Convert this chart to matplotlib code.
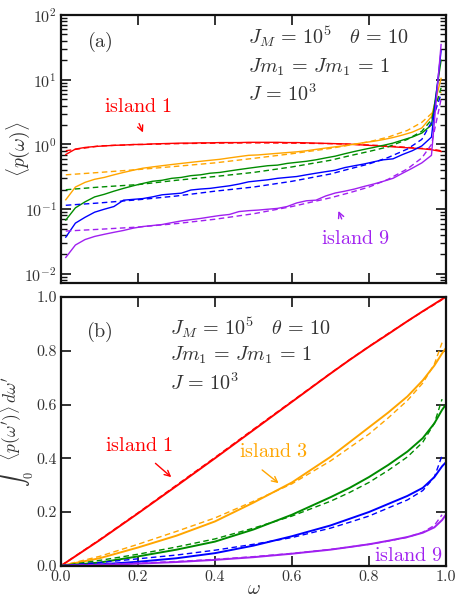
import numpy as np
import matplotlib
matplotlib.use("Agg")
import matplotlib.pyplot as plt
from matplotlib.ticker import LogLocator, MultipleLocator, NullFormatter, FormatStrFormatter

plt.rcParams['font.family'] = 'serif'
plt.rcParams['font.serif'] = ['cmr10', 'DejaVu Serif']
plt.rcParams['mathtext.fontset'] = 'cm'
plt.rcParams['axes.formatter.use_mathtext'] = True
plt.rcParams['axes.unicode_minus'] = False

# ---------------- data: panel (a) ----------------
w_bins = [0.0125, 0.0375, 0.0625, 0.0875, 0.1125, 0.1375, 0.1625, 0.1875, 0.2125, 0.2375,
          0.2625, 0.2875, 0.3125, 0.3375, 0.3625, 0.3875, 0.4125, 0.4375, 0.4625, 0.4875,
          0.5125, 0.5375, 0.5625, 0.5875, 0.6125, 0.6375, 0.6625, 0.6875, 0.7125, 0.7375,
          0.7625, 0.7875, 0.8125, 0.8375, 0.8625, 0.8875, 0.9125, 0.9375, 0.9625, 0.9875]

red_solid = [0.70, 0.85, 0.90, 0.93, 0.95, 0.97, 0.98, 1.00, 1.00, 1.02,
             1.03, 1.04, 1.05, 1.05, 1.06, 1.06, 1.07, 1.07, 1.07, 1.08,
             1.08, 1.08, 1.08, 1.07, 1.07, 1.06, 1.05, 1.04, 1.03, 1.02,
             1.00, 0.98, 0.96, 0.94, 0.92, 0.90, 0.88, 0.86, 0.83, 0.78]
orange_solid = [0.14, 0.22, 0.26, 0.29, 0.31, 0.34, 0.37, 0.40, 0.43, 0.45,
                0.47, 0.49, 0.51, 0.53, 0.55, 0.57, 0.59, 0.62, 0.65, 0.68,
                0.69, 0.71, 0.73, 0.75, 0.77, 0.80, 0.84, 0.88, 0.92, 0.96,
                1.01, 1.07, 1.12, 1.19, 1.28, 1.40, 1.55, 1.80, 2.70, 10.5]
green_solid = [0.068, 0.105, 0.13, 0.155, 0.17, 0.19, 0.21, 0.23, 0.25, 0.27,
               0.28, 0.30, 0.31, 0.33, 0.34, 0.36, 0.37, 0.39, 0.41, 0.43,
               0.45, 0.47, 0.48, 0.51, 0.53, 0.55, 0.58, 0.62, 0.66, 0.72,
               0.78, 0.84, 0.90, 0.97, 1.05, 1.17, 1.30, 1.50, 2.00, 20.0]
blue_solid = [0.037, 0.061, 0.075, 0.09, 0.10, 0.11, 0.138, 0.142, 0.146, 0.155,
              0.167, 0.172, 0.177, 0.198, 0.205, 0.21, 0.22, 0.23, 0.245, 0.265,
              0.275, 0.285, 0.30, 0.31, 0.32, 0.34, 0.36, 0.38, 0.40, 0.44,
              0.47, 0.50, 0.54, 0.58, 0.60, 0.70, 0.80, 0.95, 1.30, 28.0]
purple_solid = [0.018, 0.028, 0.034, 0.038, 0.041, 0.044, 0.047, 0.051, 0.054, 0.056,
                0.058, 0.062, 0.066, 0.069, 0.072, 0.076, 0.080, 0.083, 0.092, 0.095,
                0.097, 0.100, 0.103, 0.110, 0.125, 0.135, 0.138, 0.160, 0.178, 0.190,
                0.205, 0.225, 0.245, 0.27, 0.30, 0.36, 0.43, 0.52, 0.68, 35.0]

w_fit = [0.0125, 0.1, 0.2, 0.3, 0.4, 0.5, 0.6, 0.7, 0.75, 0.8, 0.85, 0.9, 0.9375, 0.9625, 0.9875]
red_dash = [0.80, 0.95, 1.00, 1.03, 1.05, 1.06, 1.05, 1.03, 1.01, 0.98, 0.95, 0.90, 0.87, 0.85, 0.80]
orange_dash = [0.34, 0.37, 0.41, 0.46, 0.52, 0.61, 0.72, 0.87, 0.98, 1.10, 1.30, 1.65, 2.2, 3.0, 6.5]
green_dash = [0.20, 0.22, 0.24, 0.28, 0.32, 0.37, 0.45, 0.57, 0.67, 0.78, 0.92, 1.20, 1.6, 2.4, 7.5]
blue_dash = [0.115, 0.125, 0.14, 0.16, 0.19, 0.22, 0.27, 0.35, 0.42, 0.50, 0.63, 0.85, 1.2, 2.2, 6.0]
purple_dash = [0.046, 0.049, 0.053, 0.060, 0.070, 0.085, 0.11, 0.15, 0.18, 0.22, 0.29, 0.42, 0.62, 1.0, 5.0]

# ---------------- data: panel (b) ----------------
w_cum = [0.0, 0.1, 0.2, 0.3, 0.4, 0.5, 0.6, 0.7, 0.75, 0.8, 0.85, 0.9, 0.94, 0.97, 0.99, 1.0]
red_cum = [0.0, 0.095, 0.195, 0.297, 0.40, 0.505, 0.61, 0.715, 0.766, 0.815, 0.862, 0.91, 0.947, 0.974, 0.992, 1.0]
orange_cum = [0.0, 0.028, 0.068, 0.112, 0.165, 0.235, 0.31, 0.405, 0.46, 0.515, 0.57, 0.63, 0.69, 0.745, 0.79, 0.81]
green_cum = [0.0, 0.012, 0.035, 0.06, 0.09, 0.135, 0.19, 0.255, 0.29, 0.33, 0.375, 0.425, 0.475, 0.53, 0.58, 0.60]
blue_cum = [0.0, 0.005, 0.015, 0.028, 0.047, 0.075, 0.11, 0.15, 0.175, 0.20, 0.23, 0.26, 0.29, 0.33, 0.37, 0.385]
purple_cum = [0.0, 0.003, 0.008, 0.014, 0.022, 0.032, 0.045, 0.06, 0.07, 0.08, 0.093, 0.107, 0.123, 0.143, 0.17, 0.19]

w_cum_fit = [0.0, 0.1, 0.2, 0.3, 0.4, 0.5, 0.6, 0.7, 0.75, 0.8, 0.85, 0.9, 0.94, 0.97, 0.99]
red_cum_fit = [0.0, 0.097, 0.197, 0.30, 0.403, 0.508, 0.612, 0.716, 0.767, 0.816, 0.864, 0.91, 0.946, 0.972, 0.99]
orange_cum_fit = [0.0, 0.035, 0.08, 0.128, 0.178, 0.24, 0.305, 0.39, 0.44, 0.49, 0.55, 0.615, 0.68, 0.75, 0.83]
green_cum_fit = [0.0, 0.02, 0.043, 0.07, 0.10, 0.14, 0.185, 0.24, 0.273, 0.31, 0.355, 0.405, 0.46, 0.53, 0.62]
blue_cum_fit = [0.0, 0.012, 0.026, 0.04, 0.058, 0.08, 0.105, 0.14, 0.162, 0.185, 0.215, 0.245, 0.28, 0.33, 0.41]
purple_cum_fit = [0.0, 0.005, 0.01, 0.016, 0.024, 0.034, 0.046, 0.061, 0.07, 0.08, 0.092, 0.106, 0.125, 0.15, 0.19]

colors = {'red': '#ff0000', 'orange': '#ffa500', 'green': '#008c00',
          'blue': '#0000ff', 'purple': '#a020f0'}
txt_color = '#333333'

fig = plt.figure(figsize=(4.55, 6.0), dpi=100)
ax1 = fig.add_axes([0.134, 0.528, 0.846, 0.447])
ax2 = fig.add_axes([0.134, 0.057, 0.846, 0.448])

lw = 1.0
for name, s, d in [('red', red_solid, red_dash), ('orange', orange_solid, orange_dash),
                   ('green', green_solid, green_dash), ('blue', blue_solid, blue_dash),
                   ('purple', purple_solid, purple_dash)]:
    ax1.plot(w_bins, s, color=colors[name], lw=lw)
    ax1.plot(w_fit, d, color=colors[name], lw=lw, ls=(0, (4, 2.5)))

ax1.set_yscale('log')
ax1.set_xlim(0, 1)
ax1.set_ylim(0.0072, 100)
ax1.yaxis.set_major_locator(LogLocator(base=10, numticks=10))
ax1.yaxis.set_minor_locator(LogLocator(base=10, subs=np.arange(2, 10), numticks=10))
ax1.yaxis.set_minor_formatter(NullFormatter())
ax1.xaxis.set_major_locator(MultipleLocator(0.2))
ax1.set_xticklabels([])
ax1.set_ylabel(r'$\langle p(\omega)\rangle$', fontsize=14, color=txt_color)
ax1.yaxis.set_label_coords(-0.075, 0.5)

fs = 14.5
ax1.text(0.10, 0.90, r'$\mathrm{(a)}$', transform=ax1.transAxes, fontsize=fs, color=txt_color,
         ha='center', va='center')
ax1.text(0.486, 0.918, r'$J_M \,=\, 10^5 \quad \theta \,=\, 10$', transform=ax1.transAxes,
         fontsize=fs, color=txt_color, va='center')
ax1.text(0.486, 0.806, r'$Jm_1 \,=\, Jm_1 \,=\, 1$', transform=ax1.transAxes,
         fontsize=fs, color=txt_color, va='center')
ax1.text(0.486, 0.705, r'$J \,=\, 10^3$', transform=ax1.transAxes,
         fontsize=fs, color=txt_color, va='center')
ax1.text(0.199, 0.657, r'$\mathrm{island\ 1}$', transform=ax1.transAxes, fontsize=fs,
         color=colors['red'], ha='center', va='center')
ax1.annotate('', xy=(0.216, 1.40), xytext=(0.200, 2.3),
             arrowprops=dict(arrowstyle='->', color=colors['red'], lw=1.0))
ax1.text(0.764, 0.164, r'$\mathrm{island\ 9}$', transform=ax1.transAxes, fontsize=fs,
         color=colors['purple'], ha='center', va='center')
ax1.annotate('', xy=(0.718, 0.103), xytext=(0.732, 0.0646),
             arrowprops=dict(arrowstyle='->', color=colors['purple'], lw=1.0))

for name, s, d in [('red', red_cum, red_cum_fit), ('orange', orange_cum, orange_cum_fit),
                   ('green', green_cum, green_cum_fit), ('blue', blue_cum, blue_cum_fit),
                   ('purple', purple_cum, purple_cum_fit)]:
    ax2.plot(w_cum, s, color=colors[name], lw=1.4)
    ax2.plot(w_cum_fit, d, color=colors[name], lw=1.0, ls=(0, (4, 2.5)))

ax2.set_xlim(0, 1)
ax2.set_ylim(0, 1)
ax2.xaxis.set_major_locator(MultipleLocator(0.2))
ax2.yaxis.set_major_locator(MultipleLocator(0.2))
ax2.xaxis.set_major_formatter(FormatStrFormatter('%.1f'))
ax2.yaxis.set_major_formatter(FormatStrFormatter('%.1f'))
ax2.set_ylabel(r"$\int_0^{\omega} \langle p(\omega')\rangle\, d\omega'$", fontsize=12.5,
               color=txt_color)
ax2.yaxis.set_label_coords(-0.064, 0.5)
ax2.text(0.5, -0.088, r'$\omega$', transform=ax2.transAxes, fontsize=14,
         color=txt_color, ha='center', va='center')

ax2.text(0.10, 0.871, r'$\mathrm{(b)}$', transform=ax2.transAxes, fontsize=fs, color=txt_color,
         ha='center', va='center')
ax2.text(0.283, 0.888, r'$J_M \,=\, 10^5 \quad \theta \,=\, 10$', transform=ax2.transAxes,
         fontsize=fs, color=txt_color, va='center')
ax2.text(0.283, 0.782, r'$Jm_1 \,=\, Jm_1 \,=\, 1$', transform=ax2.transAxes,
         fontsize=fs, color=txt_color, va='center')
ax2.text(0.283, 0.679, r'$J \,=\, 10^3$', transform=ax2.transAxes,
         fontsize=fs, color=txt_color, va='center')
ax2.text(0.203, 0.446, r'$\mathrm{island\ 1}$', fontsize=fs, color=colors['red'],
         ha='center', va='center')
ax2.annotate('', xy=(0.292, 0.323), xytext=(0.24, 0.388),
             arrowprops=dict(arrowstyle='->', color=colors['red'], lw=1.0))
ax2.text(0.551, 0.423, r'$\mathrm{island\ 3}$', fontsize=fs, color=colors['orange'],
         ha='center', va='center')
ax2.annotate('', xy=(0.571, 0.301), xytext=(0.517, 0.363),
             arrowprops=dict(arrowstyle='->', color=colors['orange'], lw=1.0))
ax2.text(0.902, 0.035, r'$\mathrm{island\ 9}$', fontsize=fs, color=colors['purple'],
         ha='center', va='center')

for ax in (ax1, ax2):
    for sp in ax.spines.values():
        sp.set_linewidth(1.6)
        sp.set_color('#111111')
    ax.tick_params(which='both', direction='in', top=True, right=True,
                   labelsize=11.5, labelcolor=txt_color, color='#111111')
    ax.tick_params(which='major', length=7, width=1.2, pad=3)
    ax.tick_params(which='minor', length=4, width=1.0)

fig.savefig('out.png', dpi=100)
